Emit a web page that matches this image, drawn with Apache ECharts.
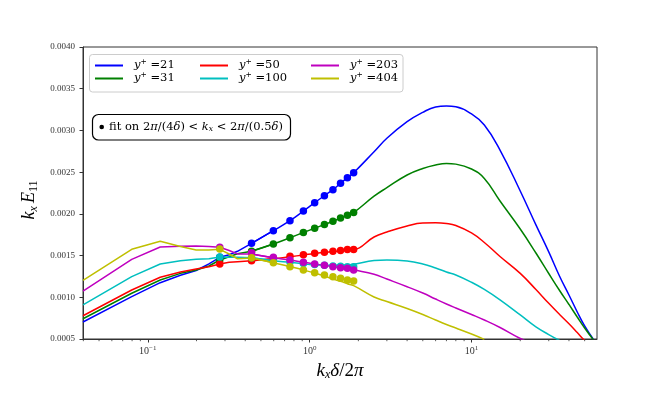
<!DOCTYPE html>
<html>
<head>
<meta charset="utf-8">
<script src="https://cdn.jsdelivr.net/npm/echarts@6/dist/echarts.min.js"></script>
<style>
  html, body { margin: 0; padding: 0; background: #fff; }
  #main { width: 664px; height: 399px; }
</style>
</head>
<body>
<div id="main"></div>
<script>
// wavenumber kx*delta/2pi (n / 8pi for the first modes, then sparser)
const kx = [0.0398, 0.0796, 0.1194, 0.1592, 0.1990, 0.2387, 0.2785, 0.3183, 0.3581,
    0.4377, 0.5968, 0.756, 0.915, 1.074, 1.234, 1.393, 1.552, 1.711, 1.870,
    2.5, 3, 4, 5, 6, 7, 8, 10, 12, 15, 20, 25, 30, 35, 40, 45, 50, 56.4];

const e21 = [0.000704, 0.001007, 0.001175, 0.001264, 0.001321, 0.0014, 0.001479, 0.00151, 0.001551,
    0.001647, 0.001798, 0.001918, 0.002034, 0.002134, 0.002218, 0.00229, 0.002366, 0.002433, 0.002493,
    0.002745, 0.002906, 0.003105, 0.003217, 0.003281, 0.003293, 0.003284, 0.003197, 0.003065, 0.002765,
    0.002274, 0.001868, 0.001544, 0.001252, 0.001027, 0.000824, 0.000656, 0.0005];
const e31 = [0.000743, 0.001048, 0.001207, 0.001287, 0.001327, 0.001375, 0.001447, 0.001486, 0.001522,
    0.001551, 0.001639, 0.001714, 0.001776, 0.001827, 0.001872, 0.001911, 0.00195, 0.001984, 0.002016,
    0.002212, 0.002314, 0.002466, 0.002544, 0.002586, 0.002604, 0.002596, 0.002538, 0.002424, 0.002154,
    0.001818, 0.001531, 0.001285, 0.001081, 0.000914, 0.000764, 0.000632, 0.000494];
const e50 = [0.000779, 0.001087, 0.00124, 0.001303, 0.001339, 0.001367, 0.001399, 0.001419, 0.001427,
    0.001439, 0.001462, 0.001486, 0.001507, 0.001525, 0.001538, 0.001548, 0.001556, 0.001566, 0.00157,
    0.001723, 0.001782, 0.001855, 0.00189, 0.001893, 0.001884, 0.00186, 0.001771, 0.001657, 0.001489,
    0.001286, 0.001093, 0.000928, 0.000794, 0.000682, 0.000578, 0.000484, 0.00042];
const e100 = [0.000908, 0.001247, 0.001399, 0.001439, 0.001455, 0.001462, 0.001483, 0.00148, 0.00148,
    0.001474, 0.001439, 0.001419, 0.001402, 0.001387, 0.001387, 0.001384, 0.001385, 0.00139, 0.001395,
    0.001441, 0.001447, 0.001435, 0.001399, 0.001351, 0.001303, 0.001267, 0.00118, 0.001094, 0.000969,
    0.000788, 0.000645, 0.000553, 0.000482, null, null, null, null];
const e203 = [0.001075, 0.001455, 0.001603, 0.001611, 0.001615, 0.001609, 0.001599, 0.00156, 0.00152,
    0.00152, 0.001474, 0.001447, 0.001419, 0.001399, 0.001383, 0.001367, 0.001355, 0.001347, 0.00133,
    0.001276, 0.001219, 0.001127, 0.001051, 0.000979, 0.00092, 0.000872, 0.000794, 0.000728, 0.000638,
    0.000506, 0.000428, null, null, null, null, null, null];
const e404 = [0.001204, 0.001575, 0.001671, 0.001609, 0.001567, 0.001567, 0.001575, 0.001519, 0.001462,
    0.00147, 0.001415, 0.001367, 0.001327, 0.001291, 0.001255, 0.001219, 0.001192, 0.001163, 0.001139,
    0.001003, 0.000949, 0.000866, 0.000794, 0.000728, 0.000674, 0.000632, 0.00056, 0.000496,
    null, null, null, null, null, null, null, null, null];

// fit points, 2pi/(4 delta) < kx < 2pi/(0.5 delta)
const fitK = [0.2785, 0.4377, 0.5968, 0.756, 0.915, 1.074, 1.234, 1.393, 1.552, 1.711, 1.870];
const fit21 = [0.00148, 0.001647, 0.001798, 0.001918, 0.002034, 0.002134, 0.002218, 0.00229, 0.002366, 0.002433, 0.002493];
const fit31 = [0.001447, 0.001551, 0.001639, 0.001714, 0.001776, 0.001827, 0.001872, 0.001911, 0.00195, 0.001984, 0.002016];
const fit50 = [0.001399, 0.001439, 0.001465, 0.001491, 0.00151, 0.001527, 0.00154, 0.001551, 0.00156, 0.001573, 0.001573];
const fit100 = [0.001483, 0.001474, 0.001453, 0.001423, 0.001405, 0.001393, 0.001383, 0.001375, 0.001371, 0.001367, 0.001367];
const fit203 = [0.001599, 0.001534, 0.001479, 0.001447, 0.001419, 0.001399, 0.001383, 0.001367, 0.001355, 0.001347, 0.001327];
const fit404 = [0.001579, 0.001474, 0.001415, 0.001367, 0.001327, 0.001295, 0.001267, 0.001247, 0.001228, 0.001207, 0.001195];

const names = ['y+ =21', 'y+ =31', 'y+ =50', 'y+ =100', 'y+ =203', 'y+ =404'];
const lines = [e21, e31, e50, e100, e203, e404];
const fits = [fit21, fit31, fit50, fit100, fit203, fit404];
const colors = ['#0000ff', '#008000', '#ff0000', '#00bfbf', '#bf00bf', '#bfbf00'];

const yTicks = [0.0005, 0.0040, 0.0005]; // min, max, step
const xRange = [0.0398, 59.6];
const splitAt = 9; // first modes drawn as straight segments, the rest smoothed

const serif = 'Liberation Serif';
const texFont = 'DejaVu Serif';

var chart = echarts.init(document.getElementById('main'), null, {renderer: 'canvas'});

function pairs(xs, ys) {
    let out = [];
    for (let i = 0; i < xs.length; i++) {
        if (ys[i] != null) out.push([xs[i], ys[i]]);
    }
    return out;
}

// minor ticks of the log axis (2..9 of each decade)
let minor = [];
for (let d = -2; d <= 1; d++) {
    for (let m = 2; m <= 9; m++) {
        let v = m * Math.pow(10, d);
        if (v > xRange[0] && v < xRange[1]) minor.push([v, yTicks[0]]);
    }
}

let series = [];
names.forEach(function (name, i) {
    let base = {
        name: name,
        type: 'line',
        showSymbol: false,
        symbol: 'none',
        lineStyle: {width: 1.5, color: colors[i]},
        itemStyle: {color: colors[i]},
        clip: true,
        z: 2
    };
    series.push(Object.assign({}, base, {
        data: pairs(kx.slice(0, splitAt + 2), lines[i].slice(0, splitAt + 2))
    }));
    series.push(Object.assign({}, base, {
        data: pairs(kx.slice(splitAt), lines[i].slice(splitAt)),
        smooth: 0.45
    }));
});
names.forEach(function (name, i) {
    series.push({
        name: name + ' fit',
        type: 'scatter',
        data: pairs(fitK, fits[i]),
        symbolSize: 7.5,
        itemStyle: {color: colors[i], opacity: 1},
        z: 3
    });
});
series.push({
    type: 'custom',
    silent: true,
    data: minor,
    clip: false,
    renderItem: function (params, api) {
        let p = api.coord([api.value(0), api.value(1)]);
        return {
            type: 'line',
            shape: {x1: p[0], y1: p[1], x2: p[0], y2: p[1] + 2.2},
            style: {stroke: '#333', lineWidth: 0.8}
        };
    }
});

const legendRich = {
    g: {width: 6},
    i: {fontFamily: texFont, fontStyle: 'italic', fontSize: 11.5, color: '#000'},
    p: {fontFamily: texFont, fontSize: 7.5, color: '#000', padding: [0, 0, 7, 0]},
    n: {fontFamily: texFont, fontSize: 11.5, color: '#000'}
};
const legendPos = [[95, 58], [95, 71], [200, 58], [200, 71], [311, 58], [311, 71]];
let legends = names.map(function (name, i) {
    return {
        data: [name],
        left: legendPos[i][0],
        top: legendPos[i][1],
        padding: 0,
        itemWidth: 28,
        itemHeight: 2,
        icon: 'rect',
        selectedMode: false,
        formatter: function (n) {
            return '{g|}{i|y}{p|+}{n| =' + n.split('=')[1] + '}';
        },
        textStyle: {rich: legendRich}
    };
});

option = {
    backgroundColor: '#fff',
    animation: false,
    color: colors,
    grid: {
        left: 83,
        right: 67,
        top: 47,
        bottom: 60,
        show: true,
        borderColor: '#333',
        borderWidth: 1,
        backgroundColor: 'transparent'
    },
    legend: legends,
    xAxis: {
        type: 'log',
        logBase: 10,
        min: xRange[0],
        max: xRange[1],
        name: '{i|k}{s|x}{i|δ}{n|/2}{i|π}',
        nameLocation: 'middle',
        nameGap: 9,
        nameTextStyle: {
            rich: {
                i: {fontFamily: serif, fontStyle: 'italic', fontSize: 19, color: '#000'},
                s: {fontFamily: serif, fontStyle: 'italic', fontSize: 12, color: '#000', padding: [7, 0, 0, 0]},
                n: {fontFamily: serif, fontSize: 19, color: '#000'}
            }
        },
        axisLine: {lineStyle: {color: '#333', width: 1}},
        axisTick: {show: true, length: 3.5, lineStyle: {color: '#333'}},
        splitLine: {show: false},
        axisLabel: {
            margin: 6,
            showMinLabel: false,
            showMaxLabel: false,
            formatter: function (v) {
                let e = Math.round(Math.log10(v));
                if (Math.abs(v - Math.pow(10, e)) > 1e-9 * Math.pow(10, e)) return '';
                let s = e < 0 ? '−' + (-e) : '' + e;
                return '{b|10}{e|' + s + '}';
            },
            rich: {
                b: {fontFamily: serif, fontSize: 10, color: '#333'},
                e: {fontFamily: serif, fontSize: 7, color: '#333', padding: [0, 0, 6, 0]}
            }
        }
    },
    yAxis: {
        type: 'value',
        min: yTicks[0],
        max: yTicks[1],
        interval: yTicks[2],
        name: '{i|k}{s|x} {i|E}{n|11}',
        nameLocation: 'middle',
        nameGap: 29,
        nameTextStyle: {
            padding: [0, 14, 0, 0],
            rich: {
                i: {fontFamily: serif, fontStyle: 'italic', fontSize: 18, color: '#000'},
                s: {fontFamily: serif, fontStyle: 'italic', fontSize: 12, color: '#000', padding: [8, 0, 0, 0]},
                n: {fontFamily: serif, fontSize: 12, color: '#000', padding: [8, 0, 0, 0]}
            }
        },
        axisLine: {show: true, lineStyle: {color: '#333', width: 1}},
        axisTick: {show: true, length: 3.5, lineStyle: {color: '#333'}},
        splitLine: {show: false},
        axisLabel: {
            margin: 8,
            fontFamily: serif,
            fontSize: 9,
            color: '#333',
            formatter: function (v) { return v.toFixed(4); }
        }
    },
    graphic: [
        {
            type: 'rect',
            z: 1,
            shape: {x: 89.5, y: 54.5, width: 313.5, height: 37.5, r: 3},
            style: {fill: 'rgba(255,255,255,0.85)', stroke: '#cccccc', lineWidth: 1}
        },
        {
            type: 'rect',
            z: 1,
            shape: {x: 92.5, y: 114.5, width: 198, height: 25.5, r: 6},
            style: {fill: '#fff', stroke: '#000', lineWidth: 1.2}
        },
        {
            type: 'circle',
            z: 2,
            shape: {cx: 101.7, cy: 127, r: 2.3},
            style: {fill: '#000'}
        },
        {
            type: 'text',
            z: 2,
            x: 109,
            y: 127,
            style: {
                text: 'fit on 2{i|π}/(4{i|δ}) < {i|k}{s|x} < 2{i|π}/(0.5{i|δ})',
                fill: '#000',
                font: '11.5px "DejaVu Serif"',
                verticalAlign: 'middle',
                rich: {
                    i: {fontFamily: texFont, fontStyle: 'italic', fontSize: 11.5, fill: '#000'},
                    s: {fontFamily: texFont, fontStyle: 'italic', fontSize: 7.5, fill: '#000', padding: [5, 0, 0, 0]}
                }
            }
        }
    ],
    series: series
};

chart.setOption(option);

window.onresize = function () {
    chart.resize();
}
</script>
</body>
</html>
